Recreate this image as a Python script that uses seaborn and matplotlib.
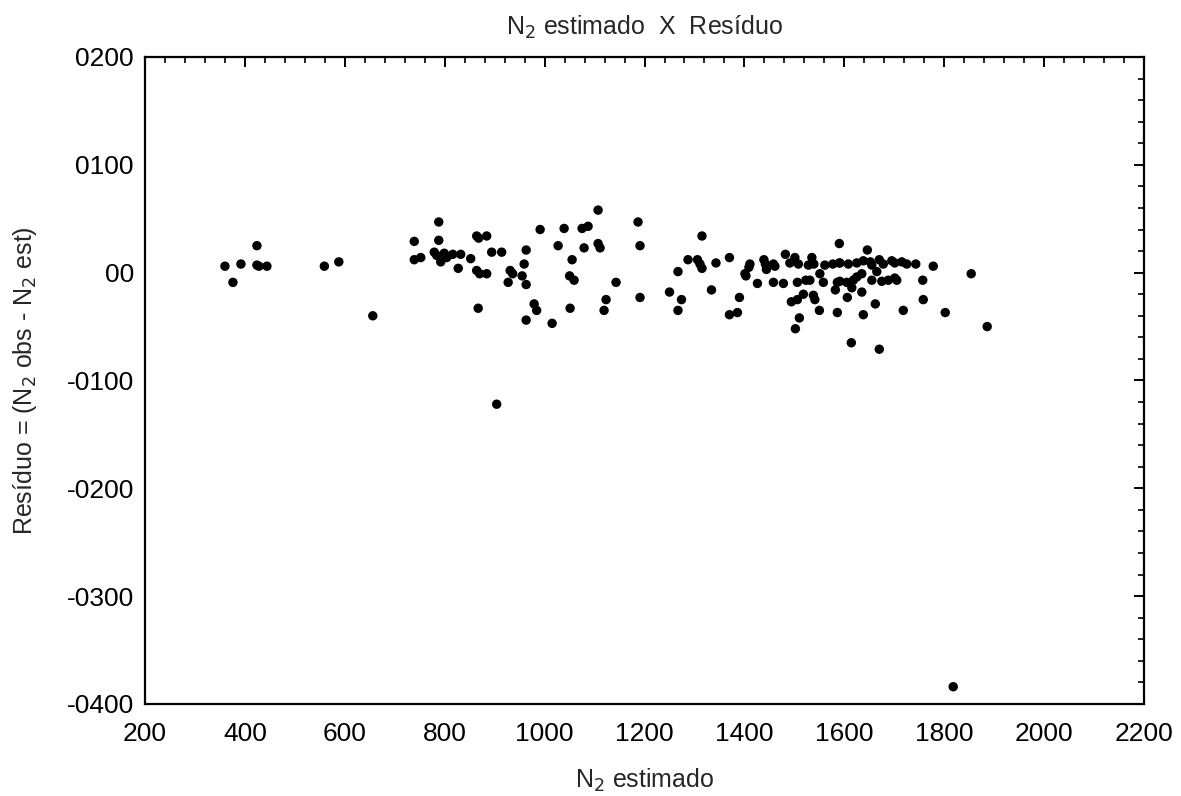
import matplotlib
matplotlib.use("Agg")
import matplotlib.pyplot as plt
import numpy as np
import pandas as pd
import seaborn as sns
from matplotlib.ticker import FuncFormatter, MultipleLocator

# N2 estimado (x) and residuo (y)
n2_est = [
    360, 376, 392, 424, 424, 428, 444, 559, 588, 656,
    739, 739, 752, 788, 788, 779, 784, 792, 799, 804, 816, 832, 827, 852,
    864, 868, 884, 864, 870, 884, 867, 894, 914, 904,
    931, 936, 927, 959, 963, 955, 963, 991, 979, 984, 963, 1015, 1027, 1039,
    1075, 1087, 1055, 1050, 1059, 1079, 1051, 1107, 1107, 1111, 1143, 1123,
    1119, 1187, 1191, 1191,
    1250, 1267, 1274, 1267, 1287, 1315, 1306, 1311, 1315, 1343, 1334, 1370,
    1370, 1386, 1390,
    1401, 1403, 1411, 1409, 1426, 1439, 1444, 1442, 1458, 1461, 1458, 1478,
    1482, 1491, 1494, 1506, 1502, 1510, 1501, 1508, 1506, 1518, 1523, 1531,
    1528, 1535, 1539, 1541, 1538, 1550, 1551, 1558, 1561, 1577, 1590, 1590,
    1582, 1586, 1586, 1591, 1591, 1605, 1608, 1606, 1615, 1614, 1618, 1625,
    1625, 1635, 1635, 1638, 1638, 1646, 1652, 1655, 1655, 1662, 1665, 1670,
    1670, 1675, 1678, 1688, 1695, 1701, 1701, 1705, 1715, 1718, 1725, 1743,
    1757, 1758, 1778, 1802, 1818, 1854, 1886,
]
residuo = [
    6, -9, 8, 25, 7, 6, 6, 6, 10, -40,
    29, 12, 14, 47, 30, 19, 16, 10, 18, 14, 17, 17, 4, 13,
    34, 32, 34, 2, -1, -1, -33, 19, 19, -122,
    2, -1, -9, 8, 21, -3, -11, 40, -29, -35, -44, -47, 25, 41,
    41, 43, 12, -3, -7, 23, -33, 58, 27, 23, -9, -25,
    -35, 47, 25, -23,
    -18, 1, -25, -35, 12, 34, 12, 8, 4, 9, -16, 14,
    -39, -37, -23,
    -1, -3, 8, 5, -10, 12, 3, 8, 8, 6, -9, -10,
    17, 9, -27, -25, -52, -42, 14, 8, -9, -20, -7, -7,
    7, 14, 8, -25, -21, -35, -1, -9, 7, 8, 9, 27,
    -16, -37, -9, -8, 9, -9, 8, -23, -14, -65, -7, 9,
    -4, -1, -18, 11, -39, 21, 10, 7, -7, -29, 1, 12,
    -71, -8, 8, -7, 11, 9, -5, -7, 10, -35, 8, 8,
    -7, -25, 6, -37, -384, -1, -50,
]

df = pd.DataFrame({"n2_est": n2_est, "residuo": residuo})

sns.set_style("white")
plt.rcParams["font.family"] = ["Liberation Sans", "DejaVu Sans"]

fig = plt.figure(figsize=(11.81, 7.96), dpi=100)
ax = fig.add_axes([0.1228, 0.1156, 0.8459, 0.8128])

sns.scatterplot(data=df, x="n2_est", y="residuo", color="black", s=46,
                edgecolor="none", ax=ax, legend=False)

ax.set_xlim(200, 2200)
ax.set_ylim(-400, 200)
ax.xaxis.set_major_locator(MultipleLocator(200))
ax.xaxis.set_minor_locator(MultipleLocator(40))
ax.yaxis.set_major_locator(MultipleLocator(100))
ax.yaxis.set_minor_locator(MultipleLocator(20))


def fmt_res(v, pos):
    v = int(round(v))
    if v == 0:
        return "00"
    if v < 0:
        return "-0%d" % abs(v)
    return "0%d" % v


ax.yaxis.set_major_formatter(FuncFormatter(fmt_res))

for side in ax.spines.values():
    side.set_linewidth(1.6)
    side.set_color("black")

ax.tick_params(which="both", direction="in", top=True, right=True,
               colors="black", labelsize=19)
ax.tick_params(axis="x", which="major", pad=13)
ax.tick_params(axis="y", which="major", pad=8)
ax.tick_params(which="major", length=7, width=1.4)
ax.tick_params(which="minor", length=4, width=1.2)

ax.set_title("N$_2$ estimado  X  Resíduo", fontsize=18, pad=16)
ax.set_xlabel("N$_2$ estimado", fontsize=18, labelpad=15)
ax.set_ylabel("Resíduo = (N$_2$ obs - N$_2$ est)", fontsize=18, labelpad=20)

fig.savefig("out.png", dpi=100)
